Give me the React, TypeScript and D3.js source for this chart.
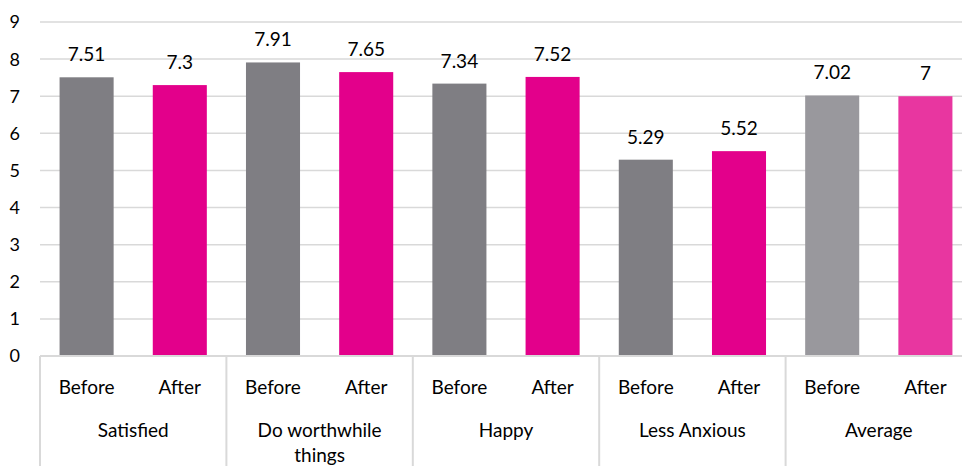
import React from "react";
import * as d3 from "d3";

const categories = ["Satisfied", "Do worthwhile things", "Happy", "Less Anxious", "Average"];
const categoryLines = [["Satisfied"], ["Do worthwhile", "things"], ["Happy"], ["Less Anxious"], ["Average"]];
const phases = ["Before", "After"];
const beforeValues = [7.51, 7.91, 7.34, 5.29, 7.02];
const afterValues = [7.3, 7.65, 7.52, 5.52, 7];
const yTicks = [0, 1, 2, 3, 4, 5, 6, 7, 8, 9];

const WIDTH = 962;
const HEIGHT = 466;
const LEFT = 40;
const CAT_W = 186.4;
const FONT = "Lato, 'Open Sans', sans-serif";

const barColors = {
  Before: "#7f7e83",
  After: "#e3008b",
};
const avgColors = {
  Before: "#99989d",
  After: "#e836a0",
};

export default function App() {
  const x0 = d3
    .scaleBand<string>()
    .domain(categories)
    .range([LEFT, LEFT + CAT_W * categories.length])
    .padding(0);
  const x1 = d3.scaleBand<string>().domain(phases).range([0, x0.bandwidth()]).paddingInner(0.42).paddingOuter(0.21);
  const y = d3.scaleLinear().domain([0, 9]).range([356, 22]);

  const rows = categories.map((c, i) => ({
    category: c,
    lines: categoryLines[i],
    values: [
      { phase: "Before", value: beforeValues[i] },
      { phase: "After", value: afterValues[i] },
    ],
  }));

  const sub = d3.scaleBand<string>().domain(phases).range([0, x0.bandwidth()]);

  return (
    <svg
      width={WIDTH}
      height={HEIGHT}
      style={{ position: "absolute", left: 0, top: 0, background: "#fff" }}
      fontFamily={FONT}
    >
      {/* gridlines and value axis labels */}
      {yTicks.map((t) => (
        <g key={t}>
          {t > 0 && (
            <line x1={LEFT} x2={WIDTH} y1={y(t)} y2={y(t)} stroke="#d9d9d9" strokeWidth={1.5} />
          )}
          <text x={20} y={y(t)} dy="0.36em" textAnchor="end" fontSize={18} fill="#000">
            {t}
          </text>
        </g>
      ))}

      {/* bars and data labels */}
      {rows.map((r, i) => (
        <g key={r.category} transform={`translate(${x0(r.category)},0)`}>
          {r.values.map((v) => {
            const isAvg = r.category === "Average";
            const fill = isAvg ? avgColors[v.phase as "Before" | "After"] : barColors[v.phase as "Before" | "After"];
            const bx = x1(v.phase)!;
            return (
              <g key={v.phase}>
                <rect x={bx} y={y(v.value)} width={x1.bandwidth()} height={y(0) - y(v.value)} fill={fill} />
                <text
                  x={bx + x1.bandwidth() / 2}
                  y={y(v.value) - 16}
                  textAnchor="middle"
                  fontSize={19}
                  fill="#000"
                >
                  {v.value}
                </text>
              </g>
            );
          })}
        </g>
      ))}

      {/* category axis */}
      <line x1={LEFT} x2={WIDTH} y1={y(0)} y2={y(0)} stroke="#d9d9d9" strokeWidth={2} />
      {categories.map((c) => (
        <line
          key={`sep-${c}`}
          x1={x0(c)!}
          x2={x0(c)!}
          y1={y(0)}
          y2={HEIGHT}
          stroke="#d9d9d9"
          strokeWidth={2}
        />
      ))}
      {rows.map((r) => (
        <g key={`lab-${r.category}`} transform={`translate(${x0(r.category)},0)`}>
          {phases.map((p) => (
            <text
              key={p}
              x={sub(p)! + sub.bandwidth() / 2}
              y={387}
              dy="0.36em"
              textAnchor="middle"
              fontSize={19}
              fill="#000"
            >
              {p}
            </text>
          ))}
          {r.lines.map((ln, k) => (
            <text
              key={ln}
              x={x0.bandwidth() / 2}
              y={430 + k * 25}
              dy="0.36em"
              textAnchor="middle"
              fontSize={19}
              fill="#000"
            >
              {ln}
            </text>
          ))}
        </g>
      ))}
    </svg>
  );
}
